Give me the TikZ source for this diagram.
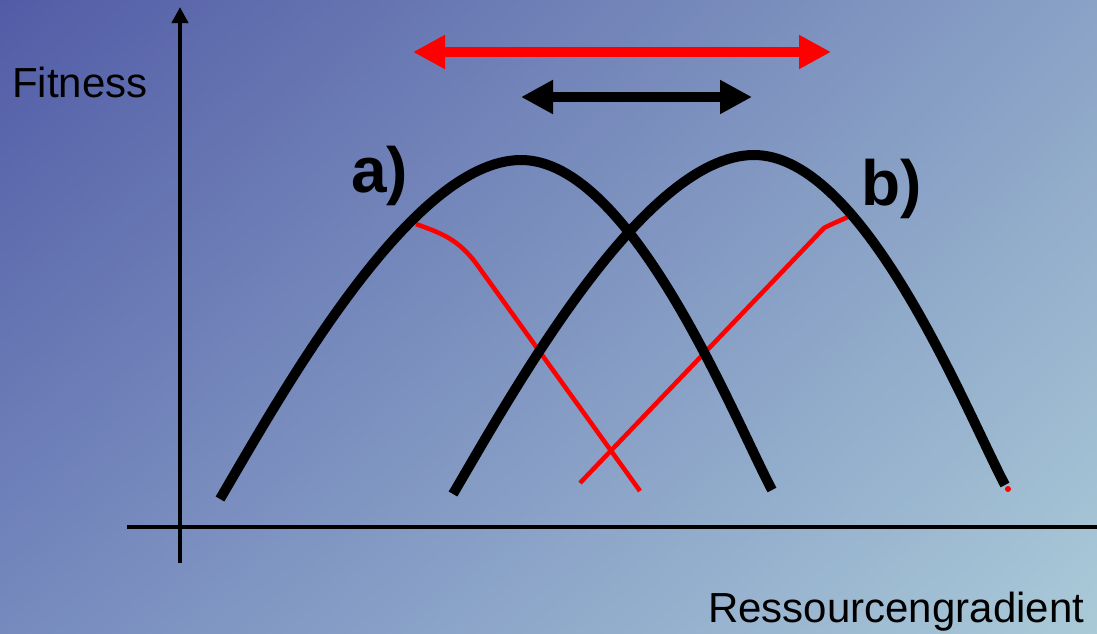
\documentclass[tikz,border=0pt]{standalone}
\usepackage{fontspec}
\setmainfont{Liberation Sans}
\usetikzlibrary{arrows.meta,shadings}
\definecolor{bgTL}{RGB}{82,92,166}
\definecolor{bgTR}{RGB}{138,162,198}
\definecolor{bgBL}{RGB}{118,138,190}
\definecolor{bgBR}{RGB}{170,202,216}
\definecolor{pred}{RGB}{255,0,0}
\begin{document}
\begin{tikzpicture}[x=0.75pt,y=-0.75pt,
  curve/.style={line width=7.5pt, line cap=butt},
  redline/.style={pred, line width=3.4pt},
  axisline/.style={line width=3pt},
  dblarrow/.style={line width=7.5pt,{Triangle[length=24pt,width=24pt]}-{Triangle[length=24pt,width=24pt]}},
  lbl/.style={inner sep=0pt, font=\fontsize{31.5}{36}\selectfont},
  curvelbl/.style={inner sep=0pt, font=\fontsize{48}{56}\selectfont\bfseries}]
\useasboundingbox (0,0) rectangle (1097,633);
\shade[upper left=bgTL, upper right=bgTR, lower left=bgBL, lower right=bgBR] (0,0) rectangle (1097,633);

% axes
\coordinate (ybot) at (180,563);
\coordinate (ytop) at (180,7);
\coordinate (xl) at (127,527);
\coordinate (xr) at (1097,527);
\draw[axisline,-{Triangle[length=12pt,width=12pt]}] (ybot) -- (ytop);
\draw[axisline] (xl) -- (xr);

% labels
\node[lbl, anchor=base west] (fit) at (12,97.5) {Fitness};
\node[lbl, anchor=base west] (res) at (708,622) {Ressourcengradient};
\node[curvelbl, anchor=base west] (la) at (351,192) {a)};
\node[curvelbl, anchor=base west] (lb) at (861,205) {b)};

% range arrows
\coordinate (rl) at (413,52);
\coordinate (rr) at (831,52);
\coordinate (bl) at (521,97);
\coordinate (br) at (752,97);
\draw[dblarrow, pred] (rl) -- (rr);
\draw[dblarrow, black] (bl) -- (br);

% red lines
\coordinate (ra0) at (416,224);
\coordinate (ra1) at (478,266);
\coordinate (ra2) at (640,491);
\draw[redline] (ra0) .. controls (440,233) and (458,238) .. (ra1) -- (ra2);
\coordinate (rb0) at (580,483);
\coordinate (rb1) at (824,228);
\coordinate (rb2) at (830,225);
\coordinate (rb3) at (850,216);
\draw[redline] (rb0) -- (rb1) -- (rb2) -- (rb3);
\fill[pred] (1008,489) circle (3);

% fitness curves
\coordinate (a0) at (220,499);
\coordinate (apk) at (521,160);
\coordinate (a1) at (772,490);
\draw[curve] (a0) .. controls (281,395) and (411,160) .. (apk)
  .. controls (631,160) and (732,414) .. (a1);
\coordinate (b0) at (453,494);
\coordinate (bpk) at (754,155);
\coordinate (b1) at (1005,485);
\draw[curve] (b0) .. controls (514,390) and (644,155) .. (bpk)
  .. controls (864,155) and (965,409) .. (b1);
\end{tikzpicture}
\end{document}
